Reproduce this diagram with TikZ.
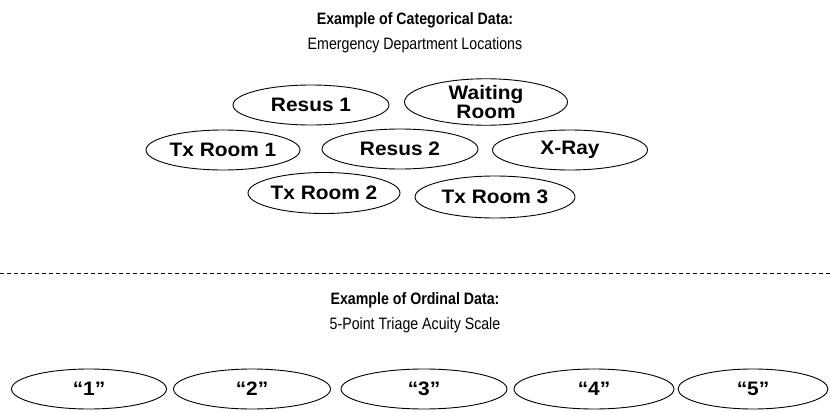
\documentclass[tikz,border=0pt]{standalone}
\usepackage{fontspec}
\setmainfont{Liberation Sans}
\newfontfamily\labelfont[FakeStretch=1.07]{Liberation Sans}
\newfontfamily\headfont[FakeStretch=0.86]{Liberation Sans}
\usetikzlibrary{shapes.geometric}
\tikzset{
  oval/.style={ellipse, draw, line width=0.9pt, inner sep=0pt,
    minimum width=156pt, minimum height=40pt,
    font=\labelfont\fontsize{19.5}{17.5}\selectfont\bfseries, align=center},
  heading/.style={font=\headfont\fontsize{16.5}{18}\selectfont\bfseries},
  subheading/.style={font=\headfont\fontsize{16.5}{18}\selectfont},
  divider/.style={line width=0.8pt, dash pattern=on 4pt off 3pt}
}
\begin{document}
\begin{tikzpicture}[x=1pt,y=-1pt]
\useasboundingbox (0,0) rectangle (830,412);

% categorical section
\node[heading] (cattitle) at (415,20) {Example of Categorical Data:};
\node[subheading] (catsub) at (415,45) {Emergency Department Locations};

\node[oval] (resus1) at (311,105) {Resus 1};
\node[oval, minimum width=163pt, minimum height=41pt] (waiting) at (486,102) {Waiting\\Room};
\node[oval, minimum width=154pt] (tx1) at (223,150) {Tx Room 1};
\node[oval] (resus2) at (400,149) {Resus 2};
\node[oval, minimum width=155pt] (xray) at (570,150) {X-Ray};
\node[oval, minimum width=152pt, minimum height=41pt] (tx2) at (324,193) {Tx Room 2};
\node[oval, minimum width=160pt, minimum height=42pt] (tx3) at (495,197) {Tx Room 3};

% divider
\coordinate (divL) at (0,273);
\coordinate (divR) at (830,273);
\draw[divider] (divL) -- (divR);

% ordinal section
\node[heading] (ordtitle) at (415,300) {Example of Ordinal Data:};
\node[subheading] (ordsub) at (415,325) {5-Point Triage Acuity Scale};

\node[oval, minimum width=155pt] (o1) at (89,389) {“1”};
\node[oval, minimum width=157pt] (o2) at (252,389) {“2”};
\node[oval, minimum width=166pt] (o3) at (424,389) {“3”};
\node[oval, minimum width=160pt] (o4) at (594,389) {“4”};
\node[oval, minimum width=150pt] (o5) at (753,389) {“5”};
\end{tikzpicture}
\end{document}
